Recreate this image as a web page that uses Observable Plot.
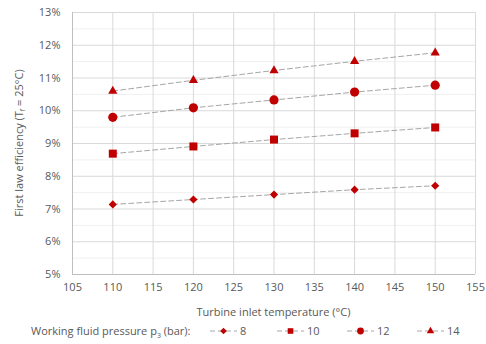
<!DOCTYPE html>
<html><head><meta charset="utf-8">
<script src="https://cdn.jsdelivr.net/npm/d3@7"></script>
<script src="https://cdn.jsdelivr.net/npm/@observablehq/plot@0.6"></script>
<style>
body{margin:0;background:#fff;font-family:"Open Sans",sans-serif;color:#595959;}
#wrap{position:relative;width:486px;height:344px;}
#legend{position:absolute;left:31px;top:323px;font-size:11px;white-space:nowrap;display:flex;align-items:center;}
#legend .item{display:flex;align-items:center;position:absolute;top:0;}
</style></head>
<body><div id="wrap"><div id="chart"></div><div id="legend"></div></div>
<script>
const temps = [110, 120, 130, 140, 150];
const pressures = ["8", "10", "12", "14"];
const eff8  = [7.14, 7.29, 7.44, 7.59, 7.71];
const eff10 = [8.69, 8.91, 9.12, 9.31, 9.49];
const eff12 = [9.80, 10.09, 10.33, 10.57, 10.78];
const eff14 = [10.60, 10.93, 11.23, 11.51, 11.77];
const yTicks = [5,6,7,8,9,10,11,12,13];
const yMinor = [5.5,6.5,7.5,8.5,9.5,10.5,11.5,12.5];
const xTicks = [105,110,115,120,125,130,135,140,145,150,155];

const series = [eff8, eff10, eff12, eff14];
const symbols = ["diamond2","square2","circle","triangle2"];
const sizes = [3.7, 5.1, 4.6, 4.4];
const data = [];
series.forEach((s, i) => s.forEach((v, j) => data.push({t: temps[j], e: v/100, p: pressures[i]})));

const red = "#c00000";
const marks = [
  Plot.ruleY(yMinor.map(d=>d/100), {stroke:"#f0f0f0"}),
  Plot.ruleY(yTicks.map(d=>d/100), {stroke:"#d9d9d9"}),
  Plot.ruleX(xTicks, {stroke:"#d9d9d9"}),
  Plot.ruleX([105], {stroke:"#bfbfbf"}),
  Plot.ruleY([0.05], {stroke:"#bfbfbf"}),
  Plot.line(data, {x:"t", y:"e", z:"p", stroke:"#a6a6a6", strokeWidth:1, strokeDasharray:"5,3"}),
];
pressures.forEach((p, i) => {
  marks.push(Plot.dot(data.filter(d => d.p === p), {x:"t", y:"e", symbol:()=>symbols[i], r:sizes[i], fill:red, stroke:"none"}));
});
marks.push(Plot.axisX(xTicks, {tickSize:0, tickPadding:9, fontSize:11, fill:"#595959", label:null}));
marks.push(Plot.axisY(yTicks.map(d=>d/100), {tickSize:0, tickPadding:12, fontSize:11, fill:"#595959", tickFormat:d=>Math.round(d*100)+"%", label:null}));

const chart = Plot.plot({
  width:486, height:322,
  marginLeft:72, marginRight:11, marginTop:12, marginBottom:48,
  style:{fontFamily:"Open Sans", fontSize:"11px", color:"#595959", background:"#fff"},
  x:{domain:[105,155]},
  y:{domain:[0.05,0.13]},
  symbol:{type:"identity"},
  marks
});
document.getElementById("chart").appendChild(chart);

const svg = d3.select(chart);
const yt = svg.append("text").attr("transform","translate(23,143) rotate(-90)")
  .attr("text-anchor","middle").attr("fill","#595959").attr("font-size",11);
yt.append("tspan").text("First law efficiency (T");
yt.append("tspan").attr("font-size",7).attr("dy",2).text("f");
yt.append("tspan").attr("dy",-2).text(" = 25°C)");
svg.append("text").attr("x",273.5).attr("y",316).attr("text-anchor","middle")
  .attr("fill","#595959").attr("font-size",11).text("Turbine inlet temperature (°C)");

// legend
const leg = document.getElementById("legend");
const lab = document.createElement("span");
lab.innerHTML = "Working fluid pressure p<sub style='font-size:7px'>3</sub> (bar):";
leg.appendChild(lab);
const lx = [179, 246, 316, 386];
const legSyms = [d3.symbolDiamond2, d3.symbolSquare2, d3.symbolCircle, d3.symbolTriangle2];
const legSizes = [28, 40, 36, 40];
pressures.forEach((p, i) => {
  const it = document.createElement("div");
  it.className = "item";
  it.style.left = lx[i] + "px";
  const ns = "http://www.w3.org/2000/svg";
  const s = document.createElementNS(ns, "svg");
  s.setAttribute("width", 27); s.setAttribute("height", 14);
  const ln = document.createElementNS(ns, "line");
  ln.setAttribute("x1",0); ln.setAttribute("x2",27); ln.setAttribute("y1",7); ln.setAttribute("y2",7);
  ln.setAttribute("stroke","#a6a6a6"); ln.setAttribute("stroke-dasharray","5,3");
  s.appendChild(ln);
  const path = document.createElementNS(ns, "path");
  path.setAttribute("transform","translate(13.5,7)");
  path.setAttribute("d", d3.symbol(legSyms[i], legSizes[i])());
  path.setAttribute("fill", red);
  s.appendChild(path);
  it.appendChild(s);
  const t = document.createElement("span");
  t.textContent = p; t.style.marginLeft = "3px";
  it.appendChild(t);
  leg.appendChild(it);
});
</script></body></html>
